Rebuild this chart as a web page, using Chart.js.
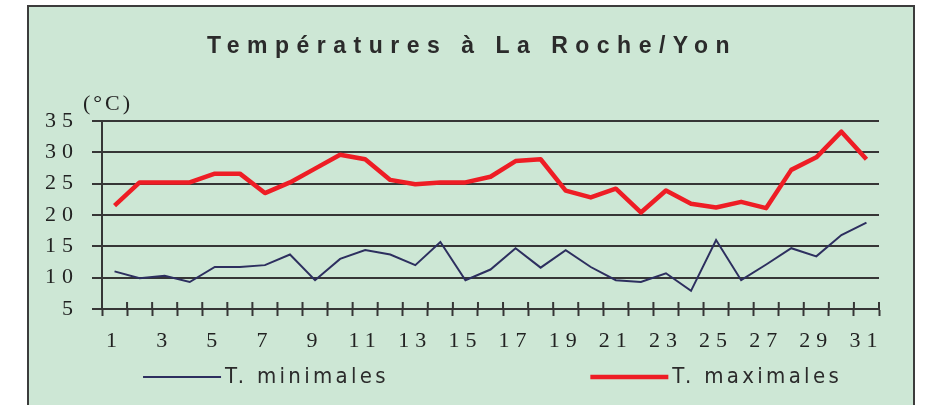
<!DOCTYPE html>
<html lang="fr">
<head>
    <meta charset="UTF-8">
    <title>Températures à La Roche/Yon</title>
    <script src="https://cdn.jsdelivr.net/npm/chart.js"></script>
    <style>
        html, body { margin: 0; padding: 0; background: #fff; overflow: hidden; }
        #frame {
            position: absolute; left: 27px; top: 5px;
            width: 884px; height: 420px;
            border: 2px solid #3c3c3c;
            background: #cde7d5;
        }
        #wrap { position: absolute; left: 0; top: 0; width: 884px; height: 398px; }
    </style>
</head>
<body>
    <div id="frame">
        <div id="wrap"><canvas id="tempChart"></canvas></div>
    </div>

    <script>
        // Data (days of the month, °C)
        const chartTitle = 'Températures à La Roche/Yon';
        const unitLabel = '(°C)';
        const days = ['1','2','3','4','5','6','7','8','9','10','11','12','13','14','15','16',
                      '17','18','19','20','21','22','23','24','25','26','27','28','29','30','31'];
        const tMin = [11.0, 9.9, 10.3, 9.3, 11.7, 11.7, 12.0, 13.7, 9.6, 13.0, 14.4, 13.7, 12.0, 15.7, 9.6,
                      11.3, 14.7, 11.6, 14.4, 11.7, 9.6, 9.3, 10.7, 7.9, 16.0, 9.6, 12.1, 14.7, 13.4, 16.8, 18.8];
        const tMax = [21.5, 25.2, 25.2, 25.2, 26.6, 26.6, 23.5, 25.2, 27.4, 29.6, 28.9, 25.6, 24.9, 25.2, 25.2,
                      26.1, 28.6, 28.9, 23.9, 22.8, 24.2, 20.4, 23.9, 21.8, 21.2, 22.1, 21.1, 27.2, 29.2, 33.3, 28.9];
        const seriesNames = ['T. minimales', 'T. maximales'];
        const seriesColors = ['#2d2f5f', '#ee1d25'];
        const yMin = 5, yMax = 35, yStep = 5;

        const axisColor = '#363636';

        // title, unit label, legend and the upper half of the x tick crosses
        const decorPlugin = {
            id: 'decor',
            beforeDraw(chart) {
                chart.ctx.letterSpacing = '6px';
            },
            afterDraw(chart) {
                const ctx = chart.ctx;
                const area = chart.chartArea;
                const x = chart.scales.x;
                ctx.save();

                // tick marks above the axis line
                const step = x.getPixelForValue(1) - x.getPixelForValue(0);
                ctx.strokeStyle = axisColor;
                ctx.lineWidth = 2;
                ctx.beginPath();
                for (let i = 0; i <= days.length; i++) {
                    const px = x.getPixelForValue(i) - step / 2;
                    ctx.moveTo(px, area.bottom);
                    ctx.lineTo(px, area.bottom - 7);
                }
                ctx.stroke();

                // title
                ctx.fillStyle = '#2b2b2b';
                ctx.letterSpacing = '7.5px';
                ctx.font = 'bold 23px "Liberation Sans", Arial, sans-serif';
                ctx.textAlign = 'center';
                ctx.textBaseline = 'alphabetic';
                ctx.fillText(chartTitle, chart.width / 2 + 1, 46);

                // unit
                ctx.letterSpacing = '3px';
                ctx.font = '22px "Liberation Serif", serif';
                ctx.textAlign = 'left';
                ctx.fillStyle = '#222';
                ctx.fillText(unitLabel, area.left - 19, 103);

                // legend
                const legendX = [0.129, 0.635];
                const legendY = 370;
                const widths = [2, 4.5];
                ctx.font = '22px "Liberation Sans Narrow", "DejaVu Sans Condensed", sans-serif';
                ctx.letterSpacing = '3.3px';
                ctx.textBaseline = 'middle';
                seriesNames.forEach((name, i) => {
                    const lx = chart.width * legendX[i];
                    ctx.strokeStyle = seriesColors[i];
                    ctx.lineWidth = widths[i];
                    ctx.beginPath();
                    ctx.moveTo(lx, legendY);
                    ctx.lineTo(lx + 78, legendY);
                    ctx.stroke();
                    ctx.fillStyle = '#2b2b2b';
                    ctx.fillText(name, lx + 82, legendY);
                });
                ctx.restore();
            }
        };

        const ctx = document.getElementById('tempChart').getContext('2d');
        new Chart(ctx, {
            type: 'line',
            data: {
                labels: days,
                datasets: [{
                    label: seriesNames[0],
                    data: tMin,
                    borderColor: seriesColors[0],
                    borderWidth: 2,
                    pointRadius: 0,
                    tension: 0
                }, {
                    label: seriesNames[1],
                    data: tMax,
                    borderColor: seriesColors[1],
                    borderWidth: 4.5,
                    borderJoinStyle: 'round',
                    pointRadius: 0,
                    tension: 0
                }]
            },
            options: {
                responsive: true,
                maintainAspectRatio: false,
                animation: false,
                layout: { padding: { left: 10, right: 34, top: 114, bottom: 46 } },
                plugins: {
                    legend: { display: false },
                    title: { display: false },
                    tooltip: { enabled: false }
                },
                scales: {
                    x: {
                        offset: true,
                        grid: {
                            offset: true,
                            drawOnChartArea: false,
                            tickLength: 7,
                            tickWidth: 2,
                            tickColor: axisColor
                        },
                        border: { color: axisColor, width: 2 },
                        ticks: {
                            autoSkip: false,
                            maxRotation: 0,
                            padding: 12,
                            color: '#222',
                            font: { family: '"Liberation Serif", serif', size: 22 },
                            callback: (v, i) => (i % 2 === 0 ? days[i] : '')
                        },
                        afterFit(scale) { scale.height = 50; }
                    },
                    y: {
                        min: yMin,
                        max: yMax,
                        grid: {
                            color: axisColor,
                            lineWidth: 2,
                            tickLength: 10
                        },
                        border: { color: axisColor, width: 2 },
                        ticks: {
                            stepSize: yStep,
                            padding: 13,
                            color: '#222',
                            font: { family: '"Liberation Serif", serif', size: 22 }
                        },
                        afterFit(scale) { scale.width = 63; }
                    }
                }
            },
            plugins: [decorPlugin]
        });
    </script>
</body>
</html>
